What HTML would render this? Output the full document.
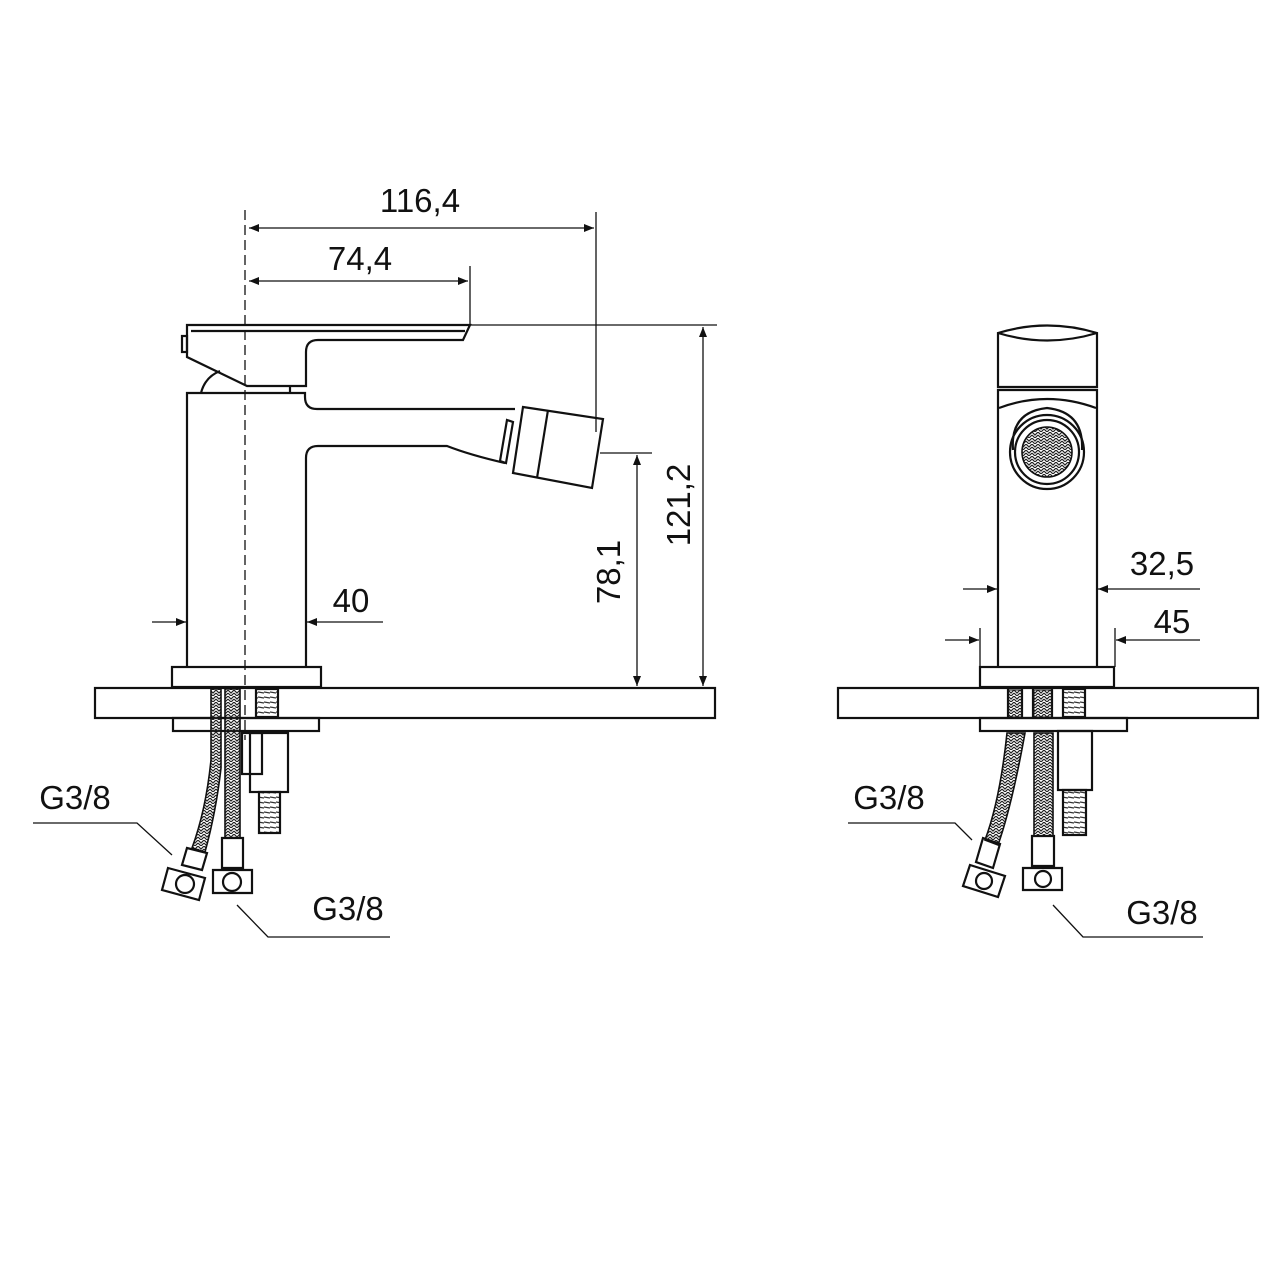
<!DOCTYPE html>
<html><head><meta charset="utf-8"><style>
html,body{margin:0;padding:0;background:#fff}
svg{display:block}
text{font-family:"Liberation Sans",Arial,sans-serif;font-size:33px;fill:#111}
</style></head><body>
<svg width="1280" height="1280" viewBox="0 0 1280 1280" xmlns="http://www.w3.org/2000/svg">
<defs>
<marker id="a" viewBox="0 0 10 10" refX="10" refY="5" markerWidth="12" markerHeight="10" markerUnits="userSpaceOnUse" orient="auto-start-reverse"><path d="M0,1 L10,5 L0,9 Z" fill="#111"/></marker>
<pattern id="br" width="6" height="6" patternUnits="userSpaceOnUse"><path d="M0,0 L3,3 L6,0 M0,3 L3,6 L6,3" stroke="#222" stroke-width="1.2" fill="none"/></pattern>
<pattern id="th" width="6" height="5" patternUnits="userSpaceOnUse"><path d="M0,2 L6,3" stroke="#333" stroke-width="1.2"/></pattern>
</defs>
<g fill="none" stroke="#111" stroke-width="2.2">
<!-- LEFT VIEW -->
<rect x="95" y="688" width="620" height="30"/>
<rect x="172" y="667" width="149" height="20"/>
<path d="M187,667 V393 H305 V397 Q305,409 317,409 H515"/>
<path d="M306,667 V458 Q306,446 318,446 H447 Q470,455 505,463"/>
<path d="M187,325 H470 L463,340 H318 Q306,340 306,352 V386 H247 L187,357 Z"/>
<path d="M191,331 H465"/>
<rect x="182" y="336" width="5" height="16"/>
<path d="M201,393 Q205,377 220,371"/>
<path d="M290,386 V393"/>
<path d="M507,420 L513,422 L506,463 L500,461 Z"/>
<path d="M523,407 L603,419 L592,488 L513,473 Z"/>
<path d="M548,410 L537,478"/>
<!-- under counter left -->
<rect x="173" y="718" width="146" height="13"/>
<rect x="256" y="689" width="22" height="28" fill="url(#th)"/>
<rect x="242" y="733" width="20" height="41"/>
<rect x="250" y="733" width="38" height="59"/>
<rect x="259" y="792" width="21" height="41" fill="url(#th)"/>
<path d="M211,689 V760 Q206,810 192,848 L205,852 Q216,812 221,768 V689 Z" fill="url(#br)" stroke-width="1.6"/>
<path d="M225,689 V838 H240 V689 Z" fill="url(#br)" stroke-width="1.6"/>
<path d="M187,848 L207,853 L202,870 L182,865 Z"/>
<path d="M222,838 H243 V868 H222 Z"/>
<path d="M168,868 L205,878 L199,900 L162,890 Z"/>
<path d="M213,870 H252 V893 H213 Z"/>
<circle cx="185" cy="884" r="9"/><circle cx="232" cy="882" r="9"/>
<!-- right view -->
<rect x="838" y="688" width="420" height="30"/>
<rect x="980" y="667" width="134" height="20"/>
<path d="M998,667 V390 H1097 V667"/>
<path d="M998,387 V333 Q1047,318 1097,333 V387 Z"/>
<path d="M998,333 Q1047,348 1097,333"/>
<path d="M999,408 Q1047,390 1096,408"/>
<path d="M1013,450 Q1010,412 1047,408 Q1084,412 1082,450"/>
<circle cx="1047" cy="452" r="37"/>
<circle cx="1047" cy="452" r="32"/>
<circle cx="1047" cy="452" r="25" fill="url(#br)" stroke-width="1.6"/>
<rect x="980" y="718" width="147" height="13"/>
<rect x="1063" y="689" width="22" height="28" fill="url(#th)"/>
<rect x="1058" y="731" width="34" height="59"/>
<rect x="1063" y="790" width="23" height="45" fill="url(#th)"/>
<path d="M1008,689 V718 M1022,689 V718 M1033,689 V718 M1052,689 V718"/>
<rect x="1008" y="690" width="14" height="27" fill="url(#br)" stroke-width="1"/>
<rect x="1034" y="690" width="18" height="27" fill="url(#br)" stroke-width="1"/>
<path d="M1007,733 Q1000,800 985,840 L998,845 Q1012,805 1025,733 Z" fill="url(#br)" stroke-width="1.6"/>
<path d="M1034,733 V836 H1053 V733 Z" fill="url(#br)" stroke-width="1.6"/>
<path d="M983,838 L1000,844 L993,868 L976,862 Z"/>
<path d="M1032,836 H1054 V866 H1032 Z"/>
<path d="M970,865 L1005,876 L998,897 L963,886 Z"/>
<path d="M1023,868 H1062 V890 H1023 Z"/>
<circle cx="984" cy="881" r="8"/><circle cx="1043" cy="879" r="8"/>
</g>
<!-- dimensions -->
<g fill="none" stroke="#111" stroke-width="1.3">
<path d="M245,210 V740" stroke-dasharray="10,5"/>
<path d="M596,212 V432 M470,266 V325 M470,325 H717 M600,453 H652"/>
<path d="M249,228 H594" marker-start="url(#a)" marker-end="url(#a)"/>
<path d="M249,281 H468" marker-start="url(#a)" marker-end="url(#a)"/>
<path d="M703,327 V686" marker-start="url(#a)" marker-end="url(#a)"/>
<path d="M637,455 V686" marker-start="url(#a)" marker-end="url(#a)"/>
<path d="M152,622 H186" marker-end="url(#a)"/>
<path d="M383,622 H307" marker-end="url(#a)"/>
<path d="M980,628 V667 M1115,628 V667"/>
<path d="M963,589 H997" marker-end="url(#a)"/>
<path d="M1200,589 H1098" marker-end="url(#a)"/>
<path d="M945,640 H979" marker-end="url(#a)"/>
<path d="M1200,640 H1116" marker-end="url(#a)"/>
<path d="M33,823 H137 L172,855 M237,905 L268,937 H390"/>
<path d="M848,823 H955 L972,840 M1053,905 L1083,937 H1203"/>
</g>
<text x="420" y="212" text-anchor="middle">116,4</text>
<text x="360" y="270" text-anchor="middle">74,4</text>
<text x="351" y="612" text-anchor="middle">40</text>
<text transform="translate(690,505) rotate(-90)" text-anchor="middle">121,2</text>
<text transform="translate(620,572) rotate(-90)" text-anchor="middle">78,1</text>
<text x="75" y="809" text-anchor="middle">G3/8</text>
<text x="348" y="920" text-anchor="middle">G3/8</text>
<text x="1162" y="575" text-anchor="middle">32,5</text>
<text x="1172" y="633" text-anchor="middle">45</text>
<text x="889" y="809" text-anchor="middle">G3/8</text>
<text x="1162" y="924" text-anchor="middle">G3/8</text>
</svg>
</body></html>
